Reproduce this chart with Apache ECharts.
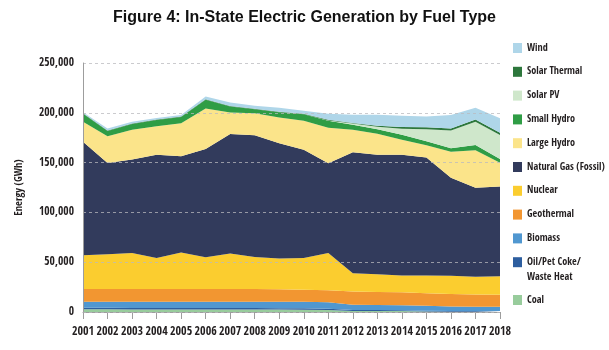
<!DOCTYPE html>
<html>
<head>
<meta charset="utf-8">
<script src="https://cdn.jsdelivr.net/npm/echarts@6/dist/echarts.min.js"></script>
<style>
html,body{margin:0;padding:0;background:#fff;}
#chart{width:609px;height:350px;}
</style>
</head>
<body>
<div id="chart"></div>
<script>
const years = ['2001','2002','2003','2004','2005','2006','2007','2008','2009','2010','2011','2012','2013','2014','2015','2016','2017','2018'];
const coal = [2700,2700,2600,2600,2500,2500,2500,2500,2400,2300,2000,1100,1000,1000,500,300,300,300];
const oil = [1500,1500,1500,1500,1500,1500,1500,1500,1400,1400,1300,900,900,800,800,700,700,700];
const biomass = [6100,6100,6200,6200,6300,6300,6300,6300,6500,6500,6400,5200,5100,5000,4900,4500,4300,4300];
const geothermal = [12700,12700,12700,12700,12700,12700,12700,12700,12500,12100,12100,13500,13200,13000,12700,12500,12300,12000];
const nuclear = [34000,35000,36300,31300,36700,32000,35700,32300,30900,32000,37500,18300,17800,16900,17800,18300,17700,18700];
const naturalGas = [114000,91700,93700,103700,96600,108700,120000,122200,115800,108700,90000,121300,119800,121100,118300,98400,89400,90000];
const largeHydro = [20000,26800,30000,28400,33100,40500,21600,22000,25800,29000,35700,22700,21200,15200,12300,26300,37800,23800];
const smallHydro = [8000,5200,5700,6300,6300,8800,6000,4000,5200,6500,7000,5000,4500,5000,4200,3500,5200,3700];
const solarPV = [0,0,0,0,0,0,0,0,0,0,300,1200,2500,6000,12000,17800,23300,24200];
const solarThermal = [600,600,600,600,600,600,600,600,600,600,600,600,1000,1800,2000,2000,2300,2200];
const wind = [900,2000,1700,1400,1400,2700,3400,2900,3900,2900,6100,8200,11000,11200,10800,13400,11700,14600];
const yTicks = [0,50000,100000,150000,200000,250000];

const OIL = 'Oil/Pet Coke/Waste Heat';
const layers = [
  ['Coal', coal, '#98cc9c'],
  [OIL, oil, '#2d5e9f'],
  ['Biomass', biomass, '#5097d0'],
  ['Geothermal', geothermal, '#f29631'],
  ['Nuclear', nuclear, '#fbcd2f'],
  ['Natural Gas (Fossil)', naturalGas, '#323b5c'],
  ['Large Hydro', largeHydro, '#fbe48a'],
  ['Small Hydro', smallHydro, '#2f9d45'],
  ['Solar PV', solarPV, '#cfe7cb'],
  ['Solar Thermal', solarThermal, '#2d773c'],
  ['Wind', wind, '#afd6e9']
];

const narrow = '"Open Sans Condensed", "Roboto Condensed", sans-serif';
const txt = '#231f20';

const series = layers.map(([name, data, color]) => ({
  name, type: 'line', stack: 'total', data,
  symbol: 'none', showSymbol: false, smooth: false,
  lineStyle: { width: 0, color },
  itemStyle: { color },
  areaStyle: { color, opacity: 1 },
  z: 2
}));

const legendNames1 = ['Wind','Solar Thermal','Solar PV','Small Hydro','Large Hydro','Natural Gas (Fossil)','Nuclear','Geothermal','Biomass',OIL];
const legendBase = {
  orient: 'vertical', left: 508, itemWidth: 9, itemHeight: 10, icon: 'rect',
  selectedMode: false, padding: 5,
  textStyle: { fontFamily: narrow, fontWeight: 'bold', fontSize: 10.2, color: txt, lineHeight: 14 },
  formatter: n => n === OIL ? 'Oil/Pet Coke/' : n
};

const chart = echarts.init(document.getElementById('chart'), null, { renderer: 'canvas' });
chart.setOption({
  animation: false,
  backgroundColor: '#fff',
  title: {
    text: 'Figure 4: In-State Electric Generation by Fuel Type',
    left: 'center', top: 5,
    textStyle: { fontFamily: '"Liberation Sans", Arial, sans-serif', fontWeight: 'bold', fontSize: 16, color: '#111' }
  },
  legend: [
    Object.assign({}, legendBase, { top: 36, itemGap: 9.8, data: legendNames1 }),
    Object.assign({}, legendBase, { top: 288, data: ['Coal'] })
  ],
  graphic: [{
    type: 'text', left: 527, top: 272,
    style: { text: 'Waste Heat', font: 'bold 10.2px ' + narrow, fill: txt }
  }],
  grid: { left: 83, right: 109, top: 63, bottom: 38, containLabel: false },
  xAxis: {
    type: 'category', data: years, boundaryGap: false,
    axisLine: { show: true, lineStyle: { color: '#9d9d9d', width: 1 } },
    axisTick: { show: true, length: 7, interval: 0, lineStyle: { color: '#9d9d9d' } },
    axisLabel: { interval: 0, margin: 14, fontFamily: narrow, fontWeight: 'bold', fontSize: 12, color: txt },
    splitLine: { show: false }
  },
  yAxis: {
    type: 'value', min: yTicks[0], max: yTicks[yTicks.length-1], interval: yTicks[1]-yTicks[0],
    z: 5,
    name: 'Energy (GWh)', nameLocation: 'middle', nameGap: 58,
    nameTextStyle: { fontFamily: narrow, fontSize: 10.5, color: txt },
    axisLine: { show: true, lineStyle: { color: '#9d9d9d', width: 1 } },
    axisTick: { show: false },
    axisLabel: { margin: 9, fontFamily: narrow, fontWeight: 'bold', fontSize: 11.5, color: txt,
      formatter: v => v.toLocaleString('en-US') },
    splitLine: { show: true, lineStyle: { color: 'rgba(185,185,190,0.75)', type: [3,3], width: 1 } }
  },
  series
});
</script>
</body>
</html>
